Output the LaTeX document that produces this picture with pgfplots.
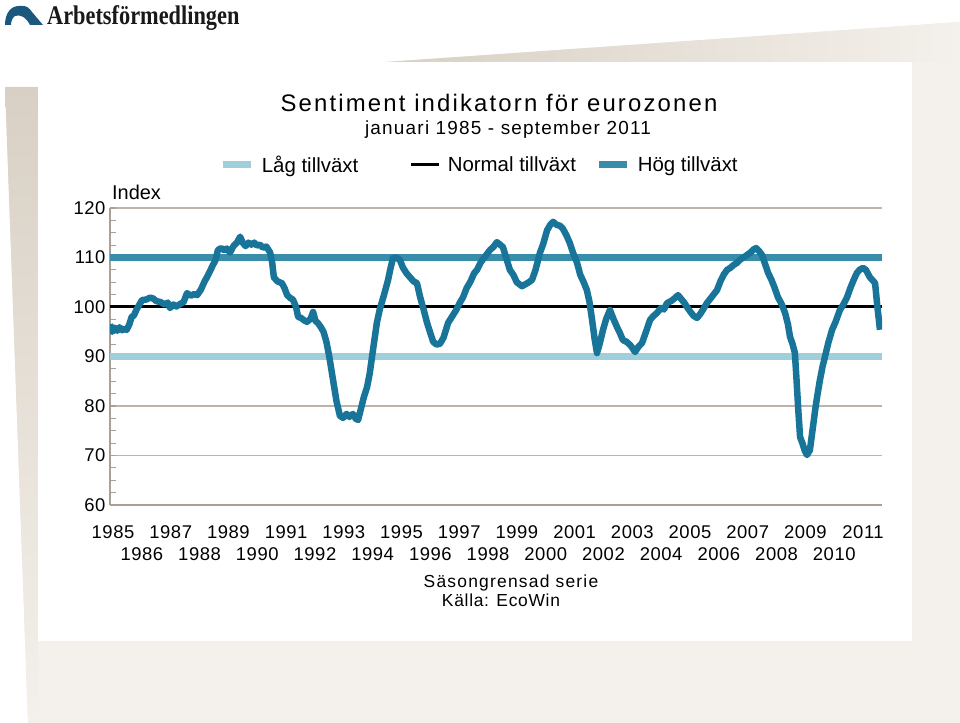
\documentclass[border=0pt]{standalone}
\usepackage{fontspec}
\setmainfont{Liberation Sans}
\newfontfamily\logofont{Liberation Serif}
\usepackage{graphicx}
\usepackage{pgfplots}
\pgfplotsset{compat=1.18}
\definecolor{tanax}{RGB}{168,160,148}
\definecolor{tangrid}{RGB}{188,180,169}
\definecolor{bgband}{RGB}{216,208,196}
\definecolor{bglight}{RGB}{244,240,235}
\definecolor{lowc}{RGB}{160,206,218}
\definecolor{highc}{RGB}{56,141,170}
\definecolor{datac}{RGB}{24,116,152}
\definecolor{logoc}{RGB}{28,88,126}
\newcommand{\fs}[1]{\fontsize{#1}{#1}\selectfont}

\pgfplotstableread{
x y
1985.00 96.5
1985.08 95.0
1985.17 95.8
1985.25 95.2
1985.33 95.9
1985.42 95.3
1985.50 95.6
1985.58 95.4
1985.67 96.5
1985.75 98.0
1985.83 98.3
1985.92 99.5
1986.00 100.3
1986.11 101.4
1986.25 101.5
1986.40 101.9
1986.50 101.7
1986.60 101.2
1986.75 101.0
1986.90 100.5
1987.00 100.9
1987.08 99.8
1987.20 100.5
1987.30 100.1
1987.43 100.6
1987.55 101.0
1987.67 102.8
1987.80 102.3
1987.92 102.6
1988.02 102.4
1988.15 103.5
1988.28 105.2
1988.36 106.0
1988.47 107.3
1988.57 108.5
1988.66 109.5
1988.74 111.5
1988.85 111.9
1988.95 111.5
1989.05 111.8
1989.16 111.0
1989.28 112.3
1989.40 113.0
1989.51 114.2
1989.60 113.0
1989.70 112.3
1989.80 113.0
1989.90 112.6
1990.00 113.0
1990.10 112.4
1990.20 112.6
1990.30 112.0
1990.42 112.2
1990.55 111.0
1990.62 109.0
1990.68 106.0
1990.80 105.2
1990.96 104.8
1991.05 103.8
1991.14 102.4
1991.25 101.8
1991.34 101.5
1991.45 100.0
1991.52 98.0
1991.62 97.8
1991.73 97.3
1991.83 97.0
1991.95 97.6
1992.04 99.0
1992.12 97.2
1992.20 96.8
1992.30 96.0
1992.40 95.0
1992.50 93.0
1992.60 90.0
1992.73 85.3
1992.85 81.0
1992.97 78.0
1993.08 77.6
1993.20 78.4
1993.30 77.8
1993.42 78.4
1993.52 77.4
1993.60 77.2
1993.70 79.5
1993.80 81.8
1993.91 83.8
1994.00 86.5
1994.12 91.5
1994.25 96.8
1994.35 99.5
1994.50 102.5
1994.64 105.5
1994.73 108.0
1994.81 109.9
1994.92 110.0
1995.05 109.5
1995.15 108.0
1995.28 106.8
1995.40 106.0
1995.52 105.2
1995.64 104.8
1995.75 102.0
1995.87 99.5
1995.99 96.8
1996.10 94.8
1996.20 93.0
1996.32 92.4
1996.44 92.6
1996.56 93.8
1996.72 96.8
1996.85 98.0
1997.00 99.4
1997.12 100.8
1997.24 102.0
1997.36 103.8
1997.50 105.2
1997.62 106.8
1997.72 107.5
1997.85 109.0
1998.00 110.2
1998.17 111.5
1998.30 112.2
1998.41 113.1
1998.52 112.6
1998.62 112.1
1998.74 109.8
1998.86 107.5
1998.98 106.5
1999.10 105.0
1999.28 104.2
1999.40 104.6
1999.52 105.0
1999.63 105.5
1999.75 107.5
1999.90 110.9
2000.02 112.8
2000.15 115.5
2000.26 116.6
2000.36 117.2
2000.48 116.6
2000.60 116.4
2000.70 115.8
2000.82 114.5
2000.94 112.9
2001.06 110.8
2001.19 108.9
2001.30 106.5
2001.42 105.0
2001.53 103.4
2001.62 101.0
2001.71 97.4
2001.80 93.5
2001.88 90.7
2001.97 92.5
2002.09 95.4
2002.20 97.6
2002.33 99.4
2002.45 97.6
2002.57 96.0
2002.67 94.8
2002.78 93.3
2002.90 93.0
2003.05 92.2
2003.20 90.9
2003.32 92.0
2003.44 92.7
2003.58 95.0
2003.72 97.4
2003.84 98.2
2003.96 98.8
2004.10 99.8
2004.20 99.5
2004.31 100.8
2004.45 101.2
2004.58 101.8
2004.69 102.4
2004.80 101.6
2004.90 100.9
2005.00 100.0
2005.12 99.0
2005.23 98.2
2005.35 97.8
2005.46 98.6
2005.57 99.6
2005.69 100.8
2005.80 101.6
2005.92 102.5
2006.04 103.4
2006.16 105.2
2006.28 106.6
2006.39 107.5
2006.50 107.9
2006.62 108.5
2006.73 108.9
2006.85 109.6
2006.96 110.0
2007.08 110.5
2007.20 111.0
2007.30 111.6
2007.40 111.9
2007.50 111.3
2007.60 110.5
2007.70 108.8
2007.81 106.9
2007.92 105.6
2008.03 104.0
2008.15 102.0
2008.28 100.6
2008.40 98.8
2008.50 96.5
2008.57 94.0
2008.66 92.5
2008.74 90.7
2008.80 85.0
2008.86 79.0
2008.92 73.7
2009.00 72.5
2009.08 71.0
2009.16 70.1
2009.26 71.1
2009.36 75.5
2009.45 79.5
2009.51 81.8
2009.60 85.0
2009.70 88.0
2009.78 89.9
2009.90 92.8
2010.03 95.4
2010.15 97.0
2010.30 99.4
2010.42 100.5
2010.55 102.0
2010.66 103.8
2010.78 105.5
2010.89 106.9
2011.00 107.6
2011.10 107.9
2011.20 107.5
2011.34 106.0
2011.45 105.3
2011.52 104.8
2011.60 100.0
2011.69 95.4
}\esidata

\begin{document}
\begin{tikzpicture}[x=1bp,y=1bp]
% ---- background (pixel coordinates, y downwards) ----
\begin{scope}[shift={(0,723)},yscale=-1]
\fill[bglight] (0,0) rectangle (960,723);
\fill[white] (0,0) -- (960,0) -- (960,22) -- (385,62) -- (38,62) -- (38,87) -- (5,87) -- (28,723) -- (0,723) -- cycle;
\shade[left color=bgband,right color=bglight] (385,62) -- (960,22) -- (960,62) -- cycle;
\shade[top color=bgband,bottom color=bglight] (5,87) -- (38,87) -- (38,723) -- (28,723) -- cycle;
\fill[white] (38,62) rectangle (912,641);
% logo
\fill[logoc] (5,25) .. controls (5,13) and (11,6) .. (19,6) -- (23,6) .. controls (27,6) and (29,8) .. (32,12) -- (43,25) -- (30,25) .. controls (26,17) and (20,14) .. (15,16) .. controls (12,18) and (11,22) .. (11,25) -- cycle;
\node[anchor=base west,inner sep=0pt,text=black!90] at (47,25) {\scalebox{0.83}[1]{\logofont\bfseries\fs{27}Arbetsförmedlingen}};
% titles
\node[anchor=base,inner sep=0pt] at (499,112) {\fs{24}\addfontfeatures{LetterSpace=9}Sentiment indikatorn för eurozonen};
\node[anchor=base,inner sep=0pt] at (508,135) {\fs{19}\addfontfeatures{LetterSpace=6.5}januari 1985 - september 2011};
\node[anchor=base west,inner sep=0pt] at (112,200) {\fs{20}Index};
\node[anchor=base,inner sep=0pt] at (511,588) {\fs{17.5}\addfontfeatures{LetterSpace=7}Säsongrensad serie};
\node[anchor=base,inner sep=0pt] at (501,607) {\fs{17.5}\addfontfeatures{LetterSpace=4}Källa: EcoWin};
\end{scope}

\begin{axis}[
  at={(110bp,218bp)}, anchor=south west,
  scale only axis, width=772bp, height=297bp,
  xmin=1985, xmax=2011.76, ymin=60, ymax=120,
  axis x line*=bottom, axis y line*=left,
  axis line style={-,draw=tanax,line width=2.5bp},
  ytick={60,70,...,120},
  minor y tick num=3,
  tick align=inside,
  major tick length=6bp, minor tick length=6bp,
  ytick style={draw=tanax,line width=1.2bp},
  ymajorgrids=true,
  major grid style={draw=tangrid,line width=1.4bp},
  xtick={1985,1987,...,2011},
  extra x ticks={1986,1988,...,2010},
  xtick style={draw=none},
  extra x tick style={grid=none,xticklabel style={yshift=-22bp}},
  /pgf/number format/1000 sep={},
  /pgf/number format/assume math mode=true,
  ticklabel style={font=\fs{18.5}\addfontfeatures{LetterSpace=3}},
  xticklabel style={anchor=north,yshift=-17bp,xshift=3bp},
  yticklabel style={xshift=-1bp},
  legend style={at={(0.142,1.145)},anchor=west,draw=none,fill=none,inner sep=0pt,
    legend columns=3,font=\fs{20.5},cells={anchor=west},
    /tikz/every even column/.append style={column sep=0pt}},
  legend image code/.code={\draw[#1] (0bp,0bp) -- (28bp,0bp);},
]
\addplot[lowc,line width=7bp] coordinates {(1985,90) (2011.76,90)};
\addlegendentry{\hspace*{5bp}\makebox[146bp][l]{Låg tillväxt}}
\addplot[black,line width=3bp] coordinates {(1985,100) (2011.76,100)};
\addlegendentry{\hspace*{5bp}\makebox[146bp][l]{Normal tillväxt}}
\addplot[highc,line width=7bp] coordinates {(1985,110) (2011.76,110)};
\addlegendentry{\hspace*{5bp}Hög tillväxt}
\addplot[datac,line width=6.5bp,line join=round,forget plot] table[x=x,y=y] {\esidata};
\end{axis}
\end{tikzpicture}
\end{document}
